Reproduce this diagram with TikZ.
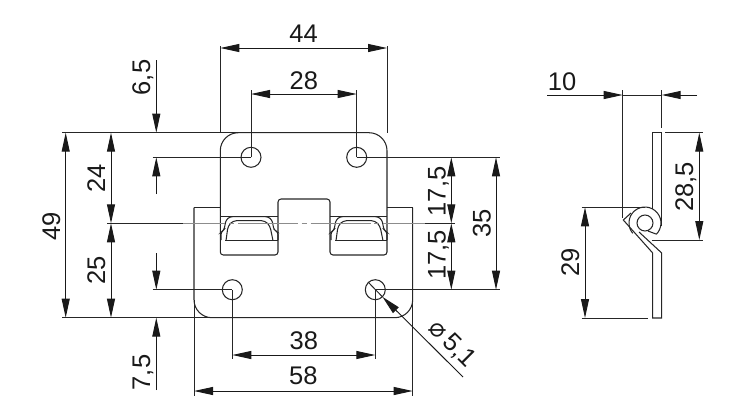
\documentclass[tikz,border=0pt]{standalone}
\usepackage{fontspec}
\setmainfont{Liberation Sans}
\newfontfamily\phifont{DejaVu Sans}
\usetikzlibrary{arrows.meta}
\tikzset{
  part/.style={line width=1.05pt,draw=black!85},
  extline/.style={line width=0.95pt,draw=black!85},
  dimline/.style={line width=0.95pt,draw=black!90,{Triangle[length=19pt,width=8pt]}-{Triangle[length=19pt,width=8pt]}},
  dimend/.style={line width=0.95pt,draw=black!90,-{Triangle[length=19pt,width=8pt]}},
  dimtext/.style={inner sep=0pt,text height=18pt,text depth=0pt,text=black!90,font=\fontsize{25.5}{25.5}\selectfont},
  upward/.style={dimtext,rotate=90}
}
\begin{document}
\begin{tikzpicture}[x=1pt,y=-1pt]
\useasboundingbox (0,0) rectangle (735,416);

\coordinate (holeA) at (251,157.3);
\coordinate (holeB) at (356.7,157.3);
\coordinate (holeC) at (232.3,289.7);
\coordinate (holeD) at (375.3,289.7);

% upper leaf
\draw[part,rounded corners=18pt] (220.3,210) -- (220.3,132.7) -- (387,132.7) -- (387,210);
\draw[part,rounded corners=3pt] (220.3,210) -- (220.3,255) -- (278,255) -- (278,199) -- (330,199) -- (330,255) -- (387,255) -- (387,210);
\draw[part] (220.3,216.7) -- (278,216.7);
\draw[part] (330,216.7) -- (387,216.7);

% lower leaf
\draw[part,rounded corners=18pt] (194,207.7) -- (194,317.7) -- (412.7,317.7) -- (412.7,207.7);
\draw[part] (220.3,207.7) -- (194,207.7);
\draw[part] (412.7,207.7) -- (387,207.7);

% clips
\draw[part] (225,240.7) -- (278,240.7);
\draw[part,rounded corners=2.5pt] (221,240) -- (221,232) -- (224,230) -- (226,220) -- (230,216.7) -- (268,216.7) -- (272,220) -- (274,230) -- (278,232) -- (278,240);
\draw[part,rounded corners=3.5pt] (226,240.7) -- (228,226) -- (233,220.7) -- (265,220.7) -- (270,226) -- (273,240.7);
\begin{scope}[xshift=110pt]
\draw[part] (225,240.7) -- (277,240.7);
\draw[part,rounded corners=2.5pt] (221,240) -- (221,232) -- (224,230) -- (226,220) -- (230,216.7) -- (268,216.7) -- (272,220) -- (274,230) -- (277,232) -- (277,240);
\draw[part,rounded corners=3.5pt] (226,240.7) -- (228,226) -- (233,220.7) -- (265,220.7) -- (270,226) -- (273,240.7);
\end{scope}

% holes
\draw[part] (holeA) circle (10);
\draw[part] (holeB) circle (10);
\draw[part] (holeC) circle (10);
\draw[part] (holeD) circle (10);

% centre line
\draw[line width=0.8pt,draw=black!45,dash pattern=on 60pt off 3.7pt on 5pt off 4pt,dash phase=17.7pt] (183,223.3) -- (425,223.3);
\draw[extline] (107,223.3) -- (183,223.3);
\draw[extline] (425,223.3) -- (455,223.3);

% extension lines
\draw[extline] (62,132.7) -- (238,132.7);
\draw[extline] (62,317.7) -- (215,317.7);
\draw[extline] (152.7,157.3) -- (holeA);
\draw[extline] (152.7,289.7) -- (holeC);
\draw[extline] (holeB) -- (500,157.3);
\draw[extline] (holeD) -- (500,289.7);
\draw[extline] (220.3,46) -- (220.3,132.7);
\draw[extline] (387,46) -- (387,132.7);
\draw[extline] (holeA) -- (251,90);
\draw[extline] (holeB) -- (356.7,90);
\draw[extline] (holeC) -- (232.3,359);
\draw[extline] (holeD) -- (375.3,359);
\draw[extline] (194,300) -- (194,396);
\draw[extline] (412.7,300) -- (412.7,396);

% dimensions front view
\draw[dimline] (220.3,48) -- node[above=5pt,dimtext] (dimA) {44} (387,48);
\draw[dimline] (251,94) -- node[above=4pt,dimtext] (dimB) {28} (356.7,94);
\draw[dimline] (232.3,355) -- node[above=5pt,dimtext] (dimC) {38} (375.3,355);
\draw[dimline] (194,391) -- node[above=6pt,dimtext] (dimD) {58} (412.7,391);

\draw[dimline] (65.7,132.7) -- (65.7,317.7);
\node[upward] (dimE) at (51,226) {49};
\draw[dimline] (111,132.7) -- (111,223.3);
\node[upward] (dimF) at (96,178) {24};
\draw[dimline] (111,223.3) -- (111,317.7);
\node[upward] (dimG) at (96,270) {25};

\draw[dimend] (156.3,60) -- (156.3,132.7);
\draw[dimend] (156.3,194) -- (156.3,157.3);
\node[upward] (dimH) at (141,77.5) {6,5};
\draw[dimend] (156.3,253) -- (156.3,289.7);
\draw[dimend] (156.3,390) -- (156.3,317.7);
\node[upward] (dimI) at (141,372.5) {7,5};

\draw[dimline] (451.3,157.3) -- (451.3,223.3);
\node[upward] (dimJ) at (436.7,191.5) {17,5};
\draw[dimline] (451.3,223.3) -- (451.3,289.7);
\node[upward] (dimK) at (436.7,255) {17,5};
\draw[dimline] (496,157.3) -- (496,289.7);
\node[upward] (dimL) at (481.7,223.3) {35};

% hole leader
\coordinate (tipD) at (382.4,296.8);
\draw[extline] (368,282) -- (tipD);
\draw[dimend] (463,377) -- (tipD);
\node[dimtext,rotate=-45] (dimM) at (453.5,343) {{\phifont ⌀}\,5,1};

% side view
\draw[part] (652.7,209) -- (652.7,132.7) -- (661.7,132.7) -- (661.7,226);
\draw[part] (645,223) circle (8);
\draw[part] (632.7,233.3) arc (140:405:16);
\draw[part] (631,213) -- (623.3,220) -- (652.7,253) -- (652.7,318) -- (661.7,318) -- (661.7,253) -- (639,232);
\draw[part] (648,231) -- (656,234);

% dimensions side view
\draw[extline] (622.7,90) -- (622.7,218);
\draw[extline] (661.7,90) -- (661.7,128);
\draw[extline] (665,132.7) -- (703,132.7);
\draw[extline] (651.7,240) -- (703,240);
\draw[extline] (581.7,207.3) -- (645,207.3);
\draw[extline] (581.7,318) -- (648,318);

\draw[dimend] (547,95) -- (622.7,95);
\draw[dimend] (697,95) -- (661.7,95);
\draw[extline] (622.7,95) -- (661.7,95);
\node[dimtext] (dimN) at (562,81) {10};
\draw[dimline] (699.3,132.7) -- (699.3,240);
\node[upward] (dimO) at (684,186.7) {28,5};
\draw[dimline] (585,207.3) -- (585,318);
\node[upward] (dimP) at (570,262.7) {29};
\end{tikzpicture}
\end{document}
